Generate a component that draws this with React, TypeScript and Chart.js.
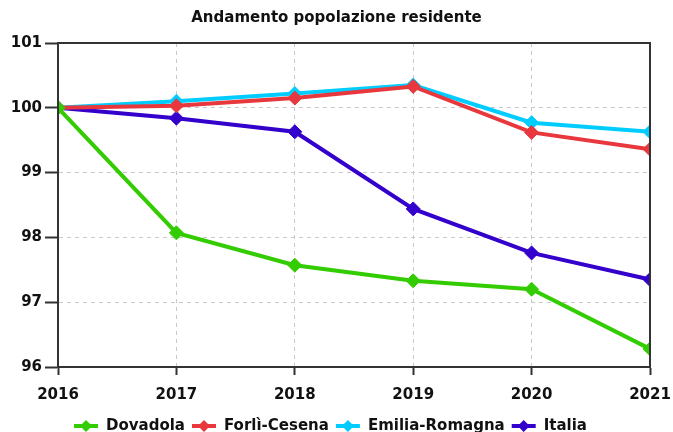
import React, { useEffect, useRef } from "react";
import { Chart, registerables } from "chart.js";

Chart.register(...registerables);

const years = ["2016", "2017", "2018", "2019", "2020", "2021"];
const dovadola = [100, 98.07, 97.57, 97.33, 97.2, 96.28];
const forliCesena = [100, 100.03, 100.15, 100.33, 99.62, 99.36];
const emiliaRomagna = [100, 100.1, 100.22, 100.35, 99.77, 99.63];
const italia = [100, 99.84, 99.63, 98.44, 97.76, 97.35];
const seriesNames = ["Dovadola", "Forlì-Cesena", "Emilia-Romagna", "Italia"];
const seriesColors = ["#33cc00", "#e8383d", "#00ccff", "#3300cc"];
const titleText = "Andamento popolazione residente";

const FONT = "'DejaVu Sans', sans-serif";

const framePlugin = {
  id: "frame",
  afterDatasetsDraw(chart: any) {
    const { ctx, chartArea } = chart;
    ctx.save();
    ctx.strokeStyle = "#333333";
    ctx.lineWidth = 2;
    ctx.strokeRect(chartArea.left, chartArea.top, chartArea.right - chartArea.left, chartArea.bottom - chartArea.top);
    ctx.restore();
  },
};

const legendPlugin = {
  id: "customLegend",
  afterDraw(chart: any) {
    const { ctx } = chart;
    ctx.save();
    ctx.font = `bold 15px ${FONT}`;
    ctx.textBaseline = "middle";
    const markerW = 24;
    const gapText = 8;
    const gapItem = 7;
    const widths = chart.data.datasets.map((d: any) => ctx.measureText(d.label).width);
    let total = 0;
    widths.forEach((w: number, i: number) => {
      total += markerW + gapText + w + (i < widths.length - 1 ? gapItem : 0);
    });
    let x = (chart.width - total) / 2 - 6;
    const y = 426;
    chart.data.datasets.forEach((d: any, i: number) => {
      const c = d.borderColor;
      ctx.strokeStyle = c;
      ctx.fillStyle = c;
      ctx.lineWidth = 4;
      ctx.beginPath();
      ctx.moveTo(x, y);
      ctx.lineTo(x + markerW, y);
      ctx.stroke();
      const cx = x + markerW / 2;
      const r = 6;
      ctx.beginPath();
      ctx.moveTo(cx, y - r);
      ctx.lineTo(cx + r, y);
      ctx.lineTo(cx, y + r);
      ctx.lineTo(cx - r, y);
      ctx.closePath();
      ctx.fill();
      ctx.fillStyle = "#111111";
      ctx.fillText(d.label, x + markerW + gapText, y);
      x += markerW + gapText + widths[i] + gapItem;
    });
    ctx.restore();
  },
};

export default function App() {
  const ref = useRef<HTMLCanvasElement | null>(null);
  useEffect(() => {
    if (!ref.current) return;
    const series = [dovadola, forliCesena, emiliaRomagna, italia];
    const chart = new Chart(ref.current, {
      type: "line",
      data: {
        labels: years,
        datasets: series.map((data, i) => ({
          label: seriesNames[i],
          data,
          borderColor: seriesColors[i],
          backgroundColor: seriesColors[i],
          borderWidth: 4,
          pointStyle: "rectRot",
          pointRadius: 7,
          pointHoverRadius: 7,
          pointBorderWidth: 1,
          tension: 0,
          clip: 1,
        })),
      },
      options: {
        animation: false,
        responsive: false,
        devicePixelRatio: 1,
        layout: { padding: { left: 0, right: 0, top: 0, bottom: 25 } },
        plugins: {
          legend: { display: false },
          tooltip: { enabled: false },
          title: {
            display: true,
            text: titleText,
            color: "#111111",
            font: { family: FONT, size: 15, weight: "bold", lineHeight: 1.2 },
            padding: { top: 9, bottom: 16 },
          },
        },
        scales: {
          x: {
            type: "category",
            offset: false,
            afterFit: (s: any) => {
              s.height = 40;
              s.paddingLeft = 0;
              s.paddingRight = 23;
            },
            grid: {
              color: "#c8c8c8",
              borderDash: [4, 4],
              tickBorderDash: [],
              tickColor: "#333333",
              tickLength: 8,
              tickWidth: 2,
            },
            border: { display: true, color: "#333333", width: 2, dash: [4, 4] },
            ticks: {
              color: "#111111",
              font: { family: FONT, size: 15, weight: "bold" },
              padding: 11,
              maxRotation: 0,
            },
          },
          y: {
            min: 96,
            max: 101,
            afterFit: (s: any) => {
              s.width = 58;
            },
            grid: {
              color: "#c8c8c8",
              tickBorderDash: [],
              tickColor: "#333333",
              tickLength: 13,
              tickWidth: 2,
            },
            border: { display: true, color: "#333333", width: 2, dash: [4, 4] },
            ticks: {
              stepSize: 1,
              color: "#111111",
              font: { family: FONT, size: 15, weight: "bold" },
              padding: 3,
            },
          },
        },
      },
      plugins: [framePlugin, legendPlugin],
    });
    return () => chart.destroy();
  }, []);
  return (
    <div style={{ position: "fixed", left: 0, top: 0, width: 673, height: 432, background: "#fff" }}>
      <canvas ref={ref} width={673} height={432} style={{ width: 673, height: 432 }} />
    </div>
  );
}
